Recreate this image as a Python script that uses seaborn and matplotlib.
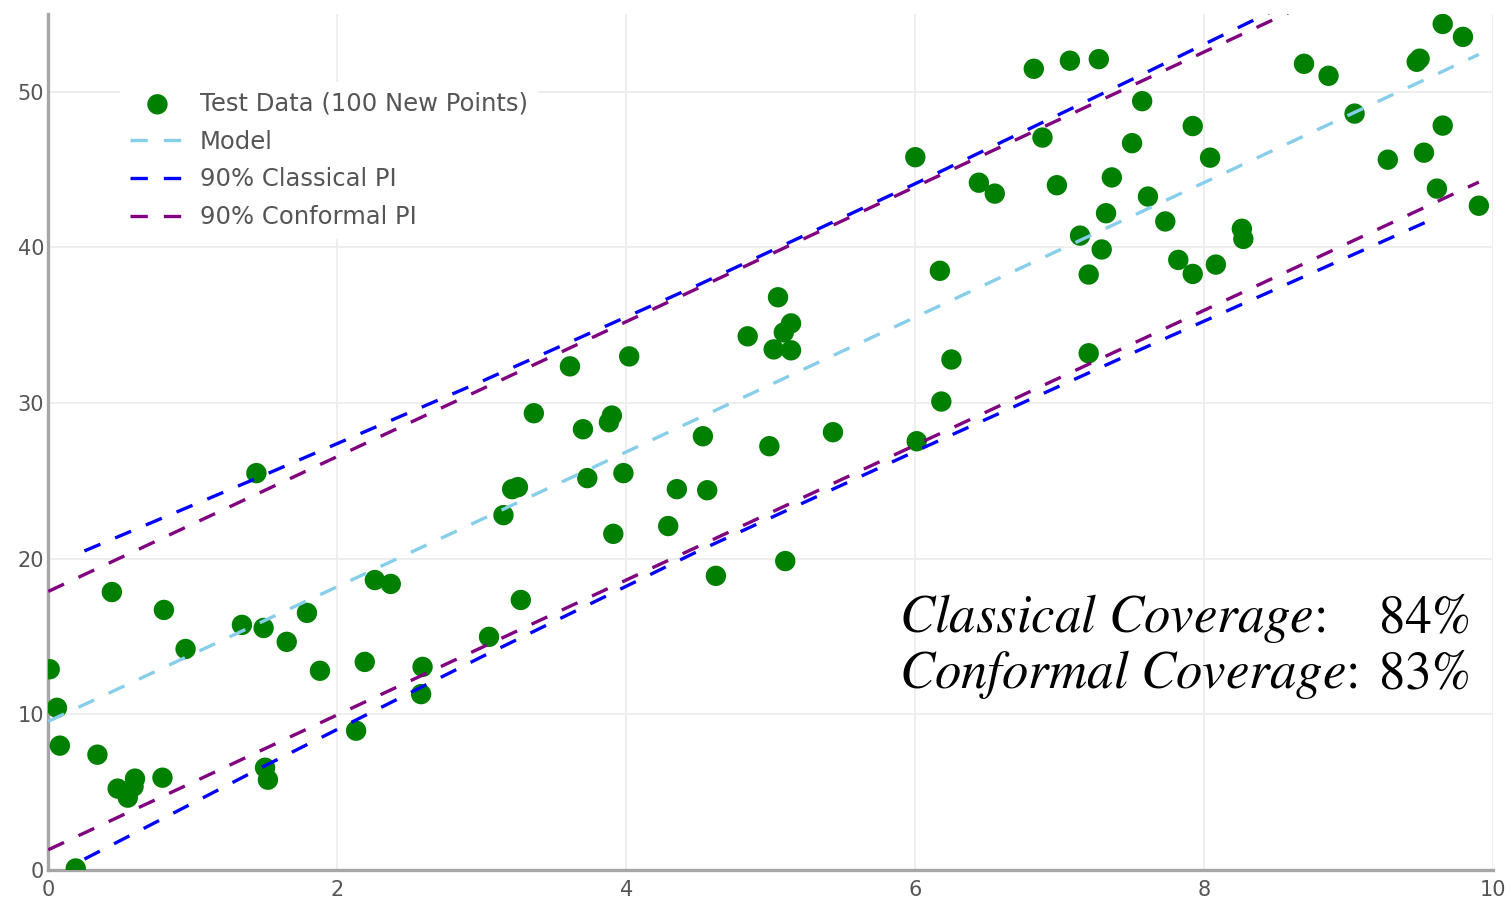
import matplotlib
matplotlib.use("Agg")
import matplotlib.pyplot as plt
import seaborn as sns

# test points
test_x = [0.01, 0.06, 0.08, 0.19, 0.34, 0.44, 0.48, 0.55, 0.60, 0.59, 0.79, 0.80,
          0.95, 1.34, 1.44, 1.49, 1.50, 1.52, 1.65, 1.79, 1.88, 2.13, 2.19, 2.26,
          2.37, 2.59, 2.58, 3.05, 3.15, 3.21, 3.25, 3.27, 3.36, 3.61, 3.70, 3.73,
          3.88, 3.90, 3.91, 3.98, 4.02, 4.29, 4.35, 4.53, 4.56, 4.62, 4.84, 4.99,
          5.02, 5.05, 5.09, 5.14, 5.14, 5.10, 5.43, 6.00, 6.01, 6.18, 6.17, 6.25,
          6.44, 6.55, 6.82, 6.88, 6.98, 7.07, 7.14, 7.20, 7.20, 7.27, 7.29, 7.32,
          7.36, 7.50, 7.57, 7.61, 7.73, 7.82, 7.92, 7.92, 8.04, 8.08, 8.26, 8.27,
          8.69, 8.86, 9.04, 9.27, 9.47, 9.49, 9.52, 9.61, 9.65, 9.65, 9.79, 9.90]
test_y = [12.9, 10.42, 7.99, 0.10, 7.41, 17.86, 5.23, 4.65, 5.87, 5.36, 5.93, 16.71,
          14.2, 15.75, 25.5, 15.55, 6.57, 5.8, 14.66, 16.52, 12.8, 8.95, 13.37, 18.63,
          18.38, 13.05, 11.3, 14.98, 22.8, 24.47, 24.6, 17.35, 29.35, 32.36, 28.32, 25.18,
          28.77, 29.2, 21.6, 25.5, 33.0, 22.1, 24.47, 27.87, 24.4, 18.9, 34.29, 27.23,
          33.45, 36.8, 34.54, 35.12, 33.39, 19.85, 28.13, 45.8, 27.55, 30.1, 38.5, 32.8,
          44.16, 43.46, 51.48, 47.06, 44.0, 52.0, 40.76, 38.26, 33.2, 52.1, 39.87, 42.2,
          44.5, 46.7, 49.4, 43.27, 41.67, 39.2, 38.3, 47.8, 45.77, 38.9, 41.2, 40.55,
          51.8, 51.03, 48.6, 45.64, 51.93, 52.13, 46.09, 43.78, 54.36, 47.83, 53.53, 42.68]

model_x = [0.0, 9.9]
model_y = [9.55, 52.4]

classical_x = [0.25, 1.5, 3.0, 4.5, 6.0, 7.5, 9.6]
classical_upper = [20.5, 25.4, 31.4, 37.6, 44.1, 50.8, 60.3]
classical_lower = [0.7, 6.7, 13.7, 20.5, 26.9, 33.2, 41.9]

conformal_x = [0.0, 9.9]
conformal_upper = [17.9, 60.8]
conformal_lower = [1.3, 44.2]

classical_cov = 84
conformal_cov = 83

sns.set_theme(style="white")
plt.rcParams["font.family"] = ["DejaVu Sans"]
plt.rcParams["mathtext.fontset"] = "stix"

fig = plt.figure(figsize=(15.11, 8.99), dpi=100)
ax = fig.add_axes([48.3 / 1511, 1 - 870 / 899, (1493.3 - 48.3) / 1511, (870 - 14) / 899])

sns.scatterplot(x=test_x, y=test_y, color="green", s=215, edgecolor="none",
                label="Test Data (100 New Points)", ax=ax, zorder=3)

dash = (0, (5.2, 4.8))
lw = 2.4
sns.lineplot(x=model_x, y=model_y, color="skyblue", linewidth=lw, linestyle=dash,
             label="Model", ax=ax, zorder=4)
sns.lineplot(x=classical_x, y=classical_upper, color="blue", linewidth=lw, linestyle=dash,
             label="90% Classical PI", ax=ax, zorder=4)
sns.lineplot(x=classical_x, y=classical_lower, color="blue", linewidth=lw, linestyle=dash,
             label="_nolegend_", ax=ax, zorder=4)
sns.lineplot(x=conformal_x, y=conformal_upper, color="purple", linewidth=lw, linestyle=dash,
             label="90% Conformal PI", ax=ax, zorder=5)
sns.lineplot(x=conformal_x, y=conformal_lower, color="purple", linewidth=lw, linestyle=dash,
             label="_nolegend_", ax=ax, zorder=5)

for line in ax.get_lines():
    line.set_dash_capstyle("butt")

ax.set_xlim(0, 10)
ax.set_ylim(0, 55)
ax.set_xticks([0, 2, 4, 6, 8, 10])
ax.set_yticks([0, 10, 20, 30, 40, 50])
ax.grid(True, color="#ededed", linewidth=1.3)
ax.set_axisbelow(True)
for s in ["top", "right"]:
    ax.spines[s].set_visible(False)
for s in ["left", "bottom"]:
    ax.spines[s].set_color("#a6a6a6")
    ax.spines[s].set_linewidth(2.4)
ax.tick_params(axis="both", length=0, labelsize=15, labelcolor="#555555")
ax.tick_params(axis="y", pad=3)
ax.tick_params(axis="x", pad=7)

leg = ax.legend(loc="upper left", bbox_to_anchor=(0.0498, 0.9206), fontsize=17.5,
                frameon=True, facecolor="white", edgecolor="none", framealpha=1,
                handlelength=2.26, handletextpad=0.62, labelspacing=0.57,
                borderpad=0.4, borderaxespad=0, markerscale=1.0)
for t in leg.get_texts():
    t.set_color("#555555")

ax.text(0.589, 0.278, r"$Classical\ Coverage$:", transform=ax.transAxes,
        fontsize=38, ha="left", va="baseline", color="black", family="STIXGeneral")
ax.text(0.985, 0.278, f"{classical_cov}%", transform=ax.transAxes,
        fontsize=38, ha="right", va="baseline", color="black", family="STIXGeneral")
ax.text(0.589, 0.2126, r"$Conformal\ Coverage$:", transform=ax.transAxes,
        fontsize=38, ha="left", va="baseline", color="black", family="STIXGeneral")
ax.text(0.985, 0.2126, f"{conformal_cov}%", transform=ax.transAxes,
        fontsize=38, ha="right", va="baseline", color="black", family="STIXGeneral")

fig.savefig("out.png", dpi=100)
